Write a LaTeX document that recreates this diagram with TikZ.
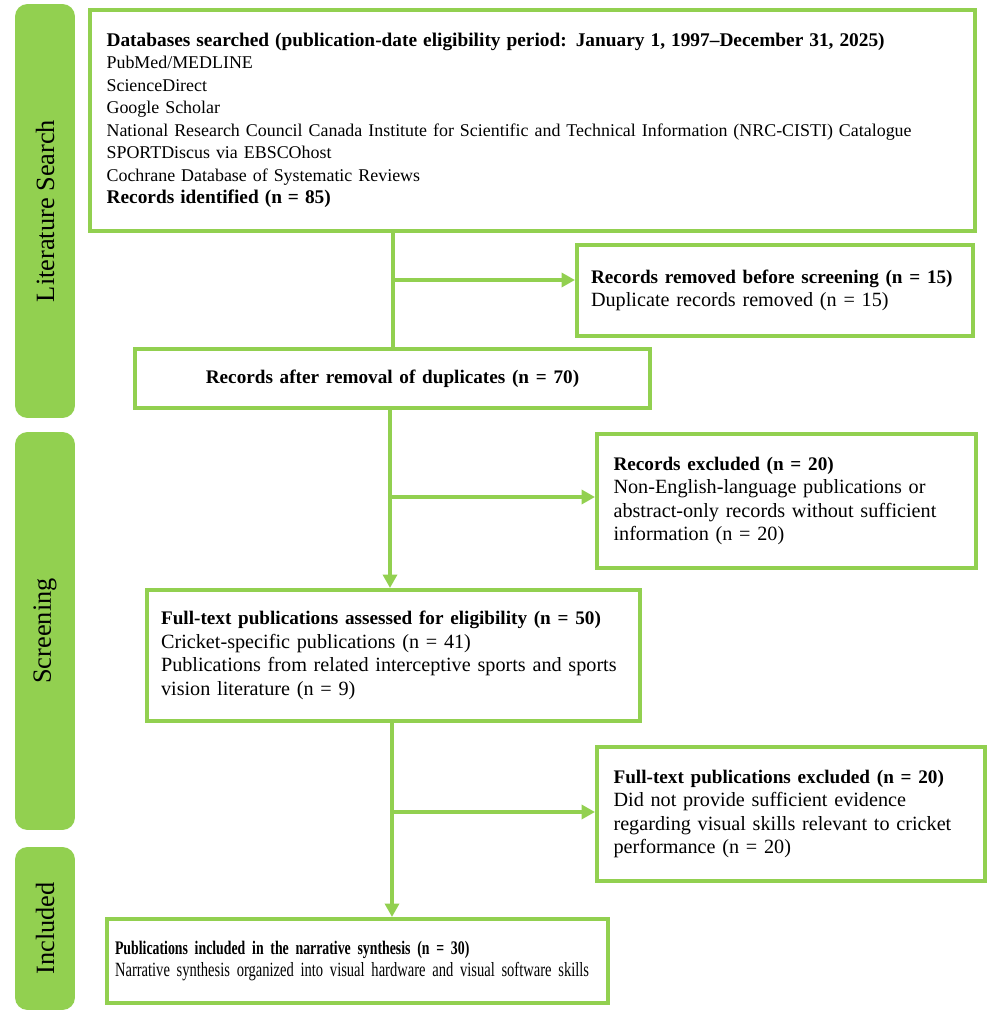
\documentclass[tikz,border=0pt]{standalone}
\usepackage{fontspec}
\setmainfont{Liberation Serif}[BoldFeatures={Scale=0.95}]
\newfontfamily\narrowfont{Liberation Serif}[FakeStretch=0.72,BoldFeatures={Scale=0.95}]
\usetikzlibrary{arrows.meta}
\definecolor{prismagreen}{RGB}{146,208,80}

\begin{document}
\begin{tikzpicture}[x=0.02cm,y=-0.02cm,
box/.style={
% The shape:
rectangle,
draw=prismagreen,
line width=0.08cm,
align=left,
inner xsep=0.33cm,
inner ysep=0pt,
font=\fontsize{11.5}{13.4}\selectfont
},
phase/.style={
rectangle,rounded corners=0.25cm,
fill=prismagreen,
minimum height=1.2cm,
rotate=90,
font=\fontsize{15}{17}\selectfont
},
line/.style={draw=prismagreen,line width=0.08cm},
arrow/.style={line,-{Triangle[length=0.27cm,width=0.28cm]}}
]
\useasboundingbox (0,0) rectangle (1000,1016);
% Phase bars:
\node (litsearch) [phase,minimum width=8.28cm] at (45,211) {Literature Search};
\node (screening) [phase,minimum width=7.96cm] at (45,631) {Screening};
\node (inclbar) [phase,minimum width=3.26cm] at (45,928.5) {Included};
% Boxes:
\node (search) [box,font=\fontsize{10.2}{12.8}\selectfont,minimum height=4.42cm,text width=17.04cm] at (532.5,120.5) {{\fontsize{11.6}{12.8}\selectfont\bfseries Databases searched (publication-date eligibility period: January 1, 1997--December 31, 2025)}\\
PubMed/MEDLINE\\
ScienceDirect\\
Google Scholar\\
National Research Council Canada Institute for Scientific and Technical Information (NRC-CISTI) Catalogue\\
SPORTDiscus via EBSCOhost\\
Cochrane Database of Systematic Reviews\\
{\fontsize{11.6}{12.8}\selectfont\bfseries Records identified (n = 85)}};
\node (removed) [box,inner xsep=0.28cm,minimum height=1.82cm,text width=7.36cm] at (775,290.5) {\textbf{Records removed before screening (n = 15)}\\
Duplicate records removed (n = 15)};
\node (dedup) [box,align=center,minimum height=1.18cm,text width=9.64cm] at (392.5,378.5) {\textbf{Records after removal of duplicates (n = 70)}};
\node (excluded) [box,minimum height=2.68cm,text width=6.92cm] at (786.5,501) {\textbf{Records excluded (n = 20)}\\
Non-English-language publications or\\
abstract-only records without sufficient\\
information (n = 20)};
\node (fulltext) [box,inner xsep=0.28cm,minimum height=2.62cm,text width=9.3cm] at (393.5,655.5) {\textbf{Full-text publications assessed for eligibility (n = 50)}\\
Cricket-specific publications (n = 41)\\
Publications from related interceptive sports and sports\\
vision literature (n = 9)};
\node (ftexcl) [box,minimum height=2.68cm,text width=7.1cm] at (791,814) {\textbf{Full-text publications excluded (n = 20)}\\
Did not provide sufficient evidence\\
regarding visual skills relevant to cricket\\
performance (n = 20)};
\node (included) [box,font=\narrowfont\fontsize{11.5}{12.8}\selectfont,inner xsep=0.16cm,minimum height=1.68cm,text width=9.7cm] at (357.5,961) {\textbf{Publications included in the narrative synthesis (n = 30)}\\
Narrative synthesis organized into visual hardware and visual software skills};
% Connectors:
\coordinate (s1) at (392.5,280);
\coordinate (s2) at (390,497);
\coordinate (s3) at (392,812);
\draw [line] (s1 |- search.south) -- (s1 |- dedup.north);
\draw [arrow] (s1) -- (s1 -| removed.west);
\draw [arrow] (s2 |- dedup.south) -- (s2 |- fulltext.north);
\draw [arrow] (s2) -- (s2 -| excluded.west);
\draw [arrow] (s3 |- fulltext.south) -- (s3 |- included.north);
\draw [arrow] (s3) -- (s3 -| ftexcl.west);
\end{tikzpicture}
\end{document}
